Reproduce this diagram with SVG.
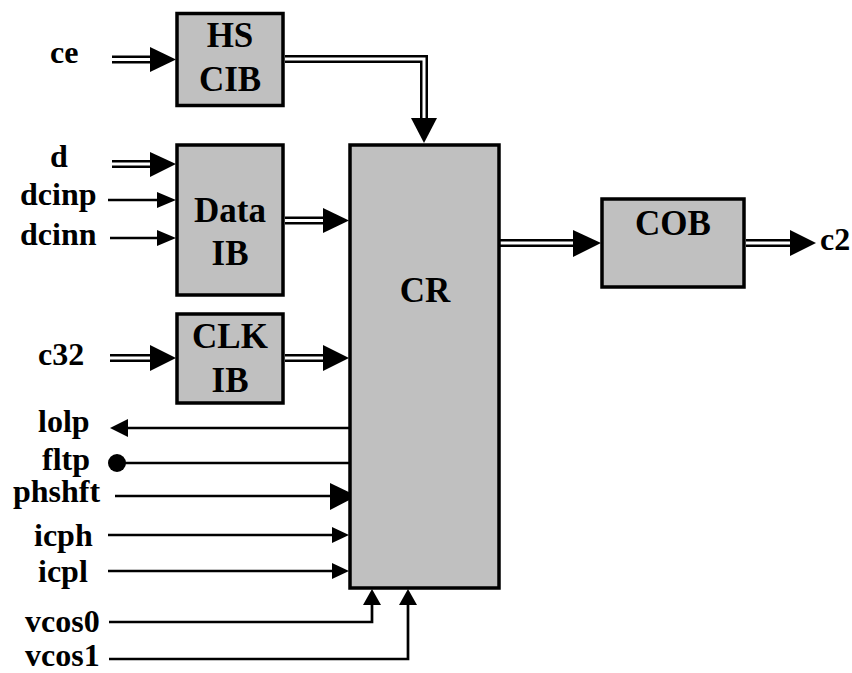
<svg xmlns="http://www.w3.org/2000/svg" width="852" height="673" viewBox="0 0 852 673">
<style>
.box{fill:#c0c0c0;stroke:#000;stroke-width:3.5}
.bt{font-family:'Liberation Serif','DejaVu Serif',serif;font-weight:bold;font-size:35px;fill:#000;text-anchor:middle}
.lb{font-family:'Liberation Serif','DejaVu Serif',serif;font-weight:bold;font-size:32px;fill:#000}
.bo{fill:none;stroke:#000;stroke-width:8;stroke-linejoin:miter}
.bi{fill:none;stroke:#fff;stroke-width:3;stroke-linejoin:miter}
.sl{fill:none;stroke:#000;stroke-width:2.7}
.ah{fill:#000}
</style>
<rect width="852" height="673" fill="#fff"/>
<g id="connectors">
  <path class="bo" d="M112,59.5H152"/><path class="bi" d="M112,59.5H152"/>
  <polygon class="ah" points="150,47 176,59.5 150,72"/>
  <path class="bo" d="M285,59H424V120"/><path class="bi" d="M285,59H424V120"/>
  <polygon class="ah" points="411,118 437,118 424,143"/>
  <path class="bo" d="M112,164H152"/><path class="bi" d="M112,164H152"/>
  <polygon class="ah" points="150,152 176,164 150,177"/>
  <path class="sl" d="M108,200H160"/>
  <polygon class="ah" points="157,192 176,200 157,208"/>
  <path class="sl" d="M110,238H160"/>
  <polygon class="ah" points="157,230 176,238 157,246"/>
  <path class="bo" d="M285,220.5H325"/><path class="bi" d="M285,220.5H325"/>
  <polygon class="ah" points="323,208 349,220.5 323,233"/>
  <path class="bo" d="M110,358H152"/><path class="bi" d="M110,358H152"/>
  <polygon class="ah" points="150,345 176,358 150,371"/>
  <path class="bo" d="M285,358H325"/><path class="bi" d="M285,358H325"/>
  <polygon class="ah" points="323,345 349,358 323,371"/>
  <path class="bo" d="M500,243H575"/><path class="bi" d="M500,243H575"/>
  <polygon class="ah" points="573,230 601,243 573,257"/>
  <path class="bo" d="M746,243H792"/><path class="bi" d="M746,243H792"/>
  <polygon class="ah" points="790,230 816,243 790,256"/>
  <path class="sl" d="M349,428H125"/>
  <polygon class="ah" points="128,419 110,428 128,437"/>
  <path class="sl" d="M117,463H349"/>
  <circle cx="117" cy="463" r="9" fill="#000"/>
  <path class="sl" d="M115,496H335"/>
  <polygon class="ah" points="330,483 357,496 330,510"/>
  <path class="sl" d="M108,535H335"/>
  <polygon class="ah" points="332,527 349,535 332,543"/>
  <path class="sl" d="M108,571H335"/>
  <polygon class="ah" points="332,563 349,571 332,579"/>
  <path class="sl" d="M109,622H372V600"/>
  <polygon class="ah" points="363,605 372,589 381,605"/>
  <path class="sl" d="M109,659H408V600"/>
  <polygon class="ah" points="399,605 408,589 417,605"/>
</g>
<g id="hscib">
  <rect class="box" x="177" y="13.5" width="106" height="92"/>
  <text class="bt" x="230" y="47">HS</text>
  <text class="bt" x="230" y="91">CIB</text>
</g>
<g id="dataib">
  <rect class="box" x="177" y="145" width="106" height="150"/>
  <text class="bt" x="230" y="222">Data</text>
  <text class="bt" x="230" y="265">IB</text>
</g>
<g id="clkib">
  <rect class="box" x="177" y="314" width="106" height="89"/>
  <text class="bt" x="230" y="348">CLK</text>
  <text class="bt" x="230" y="392">IB</text>
</g>
<g id="cr">
  <rect class="box" x="350" y="145" width="149" height="443"/>
  <text class="bt" x="425" y="302">CR</text>
</g>
<g id="cob">
  <rect class="box" x="602" y="199" width="142" height="88"/>
  <text class="bt" x="673" y="235">COB</text>
</g>
<g id="labels">
  <text class="lb" x="50" y="63">ce</text>
  <text class="lb" x="50" y="167">d</text>
  <text class="lb" x="20" y="205">dcinp</text>
  <text class="lb" x="20" y="245">dcinn</text>
  <text class="lb" x="38" y="365">c32</text>
  <text class="lb" x="38" y="432">lolp</text>
  <text class="lb" x="42" y="470">fltp</text>
  <text class="lb" x="13" y="502">phshft</text>
  <text class="lb" x="34" y="546">icph</text>
  <text class="lb" x="38" y="582">icpl</text>
  <text class="lb" x="25" y="632">vcos0</text>
  <text class="lb" x="25" y="666">vcos1</text>
  <text class="lb" x="820" y="250">c2</text>
</g>
</svg>
